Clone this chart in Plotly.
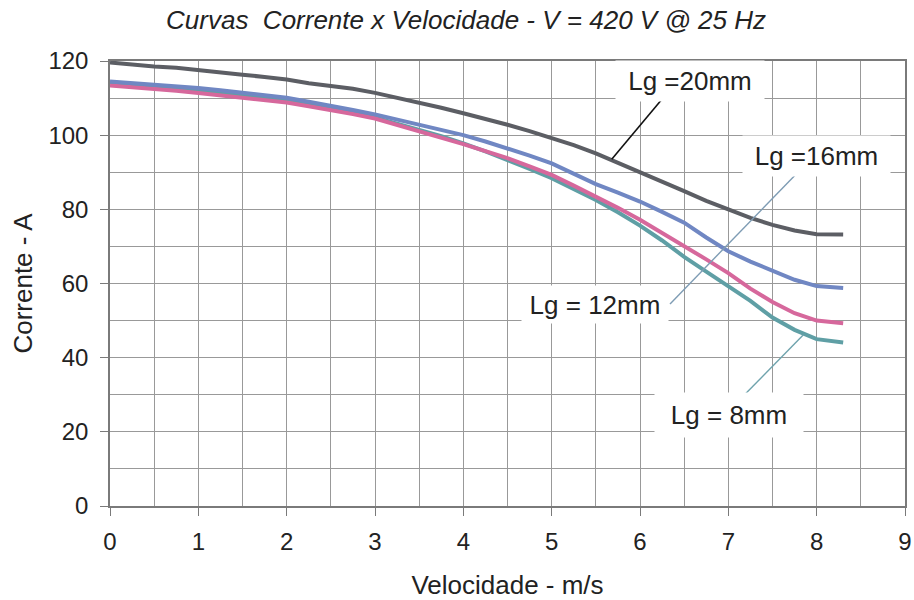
import plotly.graph_objects as go

# ---- data ----
velocidade = [0, 0.25, 0.5, 0.75, 1, 1.25, 1.5, 1.75, 2, 2.25, 2.5, 2.75, 3, 3.25, 3.5, 3.75,
              4, 4.25, 4.5, 4.75, 5, 5.25, 5.5, 5.75, 6, 6.25, 6.5, 6.75, 7, 7.25, 7.5, 7.75, 8, 8.3]

lg20 = [119.6, 119.0, 118.5, 118.2, 117.5, 116.9, 116.3, 115.7, 115.0, 114.0, 113.3, 112.5, 111.4,
        110.1, 108.7, 107.4, 105.9, 104.4, 102.8, 101.1, 99.2, 97.3, 95.1, 92.6, 89.9, 87.5, 84.9,
        82.3, 79.9, 77.7, 75.8, 74.3, 73.3, 73.2]
lg16 = [114.5, 114.1, 113.7, 113.2, 112.7, 112.1, 111.5, 110.8, 110.1, 109.0, 108.0, 106.8, 105.6,
        104.2, 102.8, 101.4, 100.0, 98.3, 96.5, 94.5, 92.4, 89.6, 86.8, 84.5, 82.1, 79.3, 76.4,
        72.4, 68.7, 65.9, 63.5, 61.0, 59.3, 58.8]
lg12 = [113.4, 113.0, 112.5, 112.0, 111.4, 110.8, 110.2, 109.5, 108.8, 107.8, 106.8, 105.7, 104.5,
        102.8, 101.0, 99.4, 97.6, 95.7, 93.8, 91.6, 89.3, 86.4, 83.5, 80.4, 77.2, 73.7, 70.2,
        66.5, 62.8, 58.6, 55.0, 52.0, 50.0, 49.3]
lg8 = [114.2, 113.6, 113.1, 112.6, 112.0, 111.4, 110.8, 110.1, 109.3, 108.3, 107.3, 106.1, 104.8,
       103.2, 101.4, 99.7, 97.8, 95.6, 93.3, 90.9, 88.4, 85.5, 82.5, 79.2, 75.6, 71.6, 67.2,
       63.2, 59.4, 55.3, 50.8, 47.5, 45.0, 44.1]

labels = ["Lg =20mm", "Lg =16mm", "Lg = 12mm", "Lg = 8mm"]
colors = ["#5c5e64", "#7087c3", "#d6689c", "#5f9fa5"]

x_ticks = list(range(0, 10))
y_ticks = list(range(0, 121, 20))

FONT = "Liberation Sans, Arial, sans-serif"
TXT = "#222222"

fig = go.Figure()
series = [(lg8, 3), (lg12, 2), (lg16, 1), (lg20, 0)]
for ys, i in series:
    fig.add_trace(go.Scatter(x=velocidade, y=ys, mode="lines", name=labels[i],
                             line=dict(color=colors[i], width=4), showlegend=False,
                             hoverinfo="x+y+name"))

# leader lines for the labels
leaders = [
    (6.26, 110.0, 5.68, 93.5, "#111111", 1.6),
    (7.78, 89.8, 6.34, 54.5, "#7e9cb4", 1.4),
    (7.85, 46.2, 7.13, 28.7, "#6fa3ad", 1.4),
]
for x0, y0, x1, y1, c, w in leaders:
    fig.add_shape(type="line", x0=x0, y0=y0, x1=x1, y1=y1, xref="x", yref="y",
                  line=dict(color=c, width=w), layer="above")

# labels with white boxes (cover grid)
label_pos = [
    (6.566, 114.6, 148, 40),
    (8.00, 94.4, 147, 40),
    (5.49, 54.4, 146, 37),
    (7.01, 24.6, 148, 44),
]
for (x, y, w, h), t in zip(label_pos, labels):
    fig.add_annotation(x=x, y=y, xref="x", yref="y", text=t, showarrow=False,
                       bgcolor="white", width=w, height=h, borderpad=0,
                       font=dict(family=FONT, size=26, color=TXT))

grid_c = "#999999"
fig.update_layout(
    width=914, height=600,
    margin=dict(l=110, r=9, t=61, b=94, autoexpand=False),
    paper_bgcolor="white", plot_bgcolor="white",
    font=dict(family=FONT, color=TXT),
    title=dict(text="Curvas  Corrente x Velocidade - V = 420 V @ 25 Hz",
               x=466 / 914, xref="container", xanchor="center",
               y=1 - 20 / 600, yref="container", yanchor="middle",
               font=dict(family=FONT, size=26, color=TXT, style="italic")),
    xaxis=dict(range=[0, 9], tickvals=x_ticks, ticktext=[str(v) for v in x_ticks],
               automargin=False,
               showgrid=True, gridcolor=grid_c, gridwidth=1,
               minor=dict(dtick=0.5, showgrid=True, gridcolor=grid_c, gridwidth=1, ticks=""),
               showline=True, linecolor="#7a7a7a", linewidth=1.5, mirror=True,
               ticks="outside", ticklen=8, tickcolor="#7a7a7a", tickwidth=1.2,
               tickfont=dict(size=24, color=TXT), ticklabelstandoff=5,
               zeroline=False,
               title=dict(text="Velocidade - m/s", font=dict(size=26, color=TXT), standoff=37)),
    yaxis=dict(range=[0, 120], tickvals=y_ticks, ticktext=[str(v) for v in y_ticks],
               automargin=False,
               showgrid=True, gridcolor=grid_c, gridwidth=1,
               minor=dict(dtick=10, showgrid=True, gridcolor=grid_c, gridwidth=1, ticks=""),
               showline=True, linecolor="#7a7a7a", linewidth=1.5, mirror=True,
               ticks="outside", ticklen=8, tickcolor="#7a7a7a", tickwidth=1.2,
               tickfont=dict(size=24, color=TXT), ticklabelstandoff=7,
               zeroline=False,
               title=dict(text="Corrente - A", font=dict(size=26, color=TXT), standoff=8)),
)

fig.write_html("out.html")
